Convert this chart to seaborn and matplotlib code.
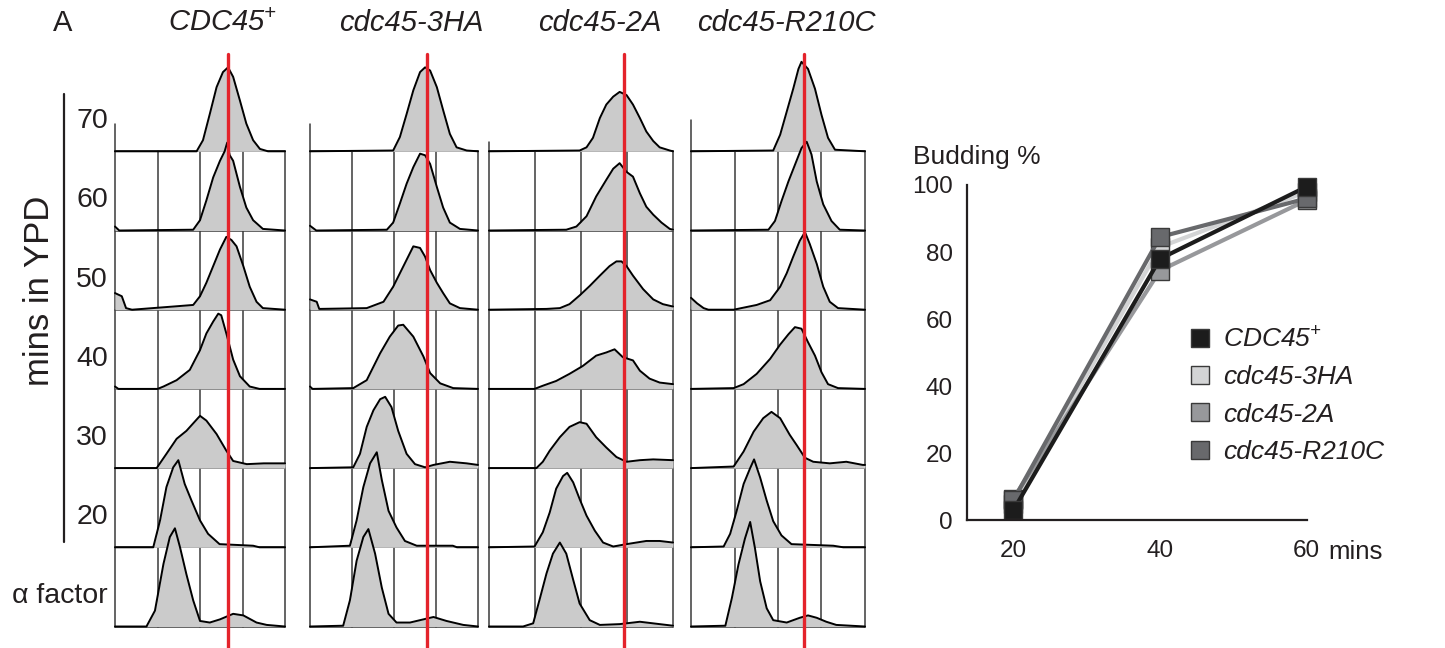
import pandas as pd
import seaborn as sns
import matplotlib.pyplot as plt
from matplotlib.lines import Line2D

# seaborn style first, fonts after (set_style resets font.family)
sns.set_style('white')
plt.rcParams['font.family'] = ['Liberation Sans', 'DejaVu Sans']
plt.rcParams['mathtext.fontset'] = 'custom'
# only the strain names use mathtext, so keep everything in it italic
plt.rcParams['mathtext.rm'] = 'Liberation Sans:italic'
plt.rcParams['mathtext.it'] = 'Liberation Sans:italic'
plt.rcParams['text.color'] = '#231f20'
plt.rcParams['xtick.labelcolor'] = '#231f20'
plt.rcParams['ytick.labelcolor'] = '#231f20'

W, H = 1445, 648

# ---- FACS panel data ----
strain_titles = [r'$CDC45^{+}$', 'cdc45-3HA', 'cdc45-2A', 'cdc45-R210C']
row_labels = ['\u03b1 factor', '20', '30', '40', '50', '60', '70']   # bottom -> top
red_x = [2.67, 2.78, 2.93, 2.60]          # 2C position in each column (box quarters)
top_spine = [0.35, 0.35, 0.12, 0.40]      # left tick above the 70 min row

# outline of each histogram: (x in box quarters 0-4, height in rows), rows bottom -> top
hist_cdc45 = [
    [(0, 0), (0.74, 0), (0.94, 0.2), (1.14, 0.79), (1.29, 1.13), (1.41, 1.24), (1.53, 1.0), (1.68, 0.66),
     (1.84, 0.33), (2.0, 0.07), (2.23, 0.05), (2.47, 0.09), (2.78, 0.16), (3.02, 0.14), (3.33, 0.05),
     (3.57, 0.02), (4, 0)],
    [(0, 0), (0.9, 0), (1.06, 0.34), (1.21, 0.76), (1.37, 1.01), (1.49, 1.1), (1.64, 0.8), (1.8, 0.59),
     (2.0, 0.34), (2.19, 0.17), (2.46, 0.04), (3.25, 0.02), (3.4, 0), (4, 0)],
    [(0, 0), (0.98, 0), (1.21, 0.18), (1.45, 0.37), (1.68, 0.47), (2.0, 0.66), (2.15, 0.6), (2.39, 0.43),
     (2.62, 0.22), (2.78, 0.09), (3.1, 0.05), (3.5, 0.06), (4, 0.06)],
    [(0, 0.03), (0.08, 0), (1.0, 0), (1.14, 0.03), (1.45, 0.11), (1.76, 0.24), (2.0, 0.49), (2.15, 0.7),
     (2.31, 0.85), (2.43, 0.95), (2.5, 0.93), (2.62, 0.7), (2.78, 0.37), (2.94, 0.16), (3.17, 0.03),
     (3.4, 0), (4, 0)],
    [(0, 0.21), (0.16, 0.17), (0.26, 0.02), (0.4, 0), (1.37, 0.04), (1.84, 0.06), (2.0, 0.17), (2.15, 0.34),
     (2.31, 0.55), (2.47, 0.76), (2.62, 0.92), (2.74, 0.88), (2.86, 0.8), (3.02, 0.55), (3.17, 0.29),
     (3.33, 0.1), (3.48, 0.02), (4, 0)],
    [(0, 0.05), (0.1, 0), (1.84, 0.01), (2.0, 0.13), (2.15, 0.38), (2.31, 0.67), (2.47, 0.88), (2.58, 1.0),
     (2.64, 1.11), (2.7, 0.95), (2.78, 0.88), (2.94, 0.55), (3.09, 0.29), (3.25, 0.13), (3.48, 0.02), (4, 0)],
    [(0, 0), (1.92, 0), (2.07, 0.14), (2.23, 0.47), (2.39, 0.81), (2.54, 1.0), (2.66, 1.06), (2.78, 0.94),
     (2.94, 0.64), (3.09, 0.35), (3.25, 0.14), (3.41, 0.03), (3.6, 0), (4, 0)],
]
hist_3ha = [
    [(0, 0), (0.79, 0.01), (0.95, 0.33), (1.11, 0.83), (1.27, 1.13), (1.39, 1.23), (1.55, 0.92), (1.71, 0.49),
     (1.87, 0.16), (2.06, 0.05), (2.38, 0.05), (2.7, 0.09), (2.94, 0.12), (3.25, 0.07), (3.65, 0.02), (4, 0)],
    [(0, 0), (0.95, 0.02), (1.11, 0.34), (1.27, 0.76), (1.43, 1.06), (1.59, 1.2), (1.71, 0.85), (1.87, 0.46),
     (2.06, 0.25), (2.26, 0.08), (2.54, 0.02), (2.94, 0.02), (3.4, 0.02), (3.5, 0), (4, 0)],
    [(0, 0), (1.03, 0.01), (1.19, 0.18), (1.35, 0.52), (1.51, 0.73), (1.67, 0.87), (1.79, 0.9), (1.94, 0.77),
     (2.1, 0.47), (2.3, 0.18), (2.5, 0.05), (2.74, 0.01), (2.94, 0.04), (3.33, 0.08), (3.73, 0.06), (4, 0.04)],
    [(0, 0.03), (0.06, 0), (1.03, 0.01), (1.35, 0.11), (1.67, 0.45), (1.9, 0.66), (2.1, 0.8), (2.22, 0.81),
     (2.46, 0.66), (2.7, 0.41), (2.86, 0.2), (3.1, 0.07), (3.41, 0.01), (4, 0)],
    [(0, 0.13), (0.16, 0.1), (0.22, 0.01), (1.35, 0.02), (1.75, 0.1), (1.98, 0.29), (2.14, 0.46), (2.3, 0.63),
     (2.46, 0.8), (2.62, 0.78), (2.74, 0.67), (2.86, 0.5), (3.02, 0.34), (3.17, 0.21), (3.33, 0.08),
     (3.57, 0.02), (4, 0)],
    [(0, 0.06), (0.15, 0), (1.83, 0.01), (1.98, 0.1), (2.14, 0.34), (2.3, 0.59), (2.46, 0.8), (2.62, 0.97),
     (2.74, 0.95), (2.86, 0.84), (3.02, 0.55), (3.17, 0.29), (3.33, 0.1), (3.57, 0.02), (4, 0)],
    [(0, 0), (1.98, 0.01), (2.14, 0.18), (2.3, 0.47), (2.46, 0.77), (2.62, 1.0), (2.74, 1.06), (2.86, 1.02),
     (3.02, 0.81), (3.17, 0.52), (3.33, 0.22), (3.49, 0.05), (3.73, 0.01), (4, 0)],
]
hist_2a = [
    [(0, 0), (0.74, 0), (0.96, 0.04), (1.1, 0.34), (1.25, 0.67), (1.39, 0.92), (1.54, 1.06), (1.68, 0.92),
     (1.83, 0.59), (1.97, 0.29), (2.19, 0.08), (2.41, 0.02), (2.84, 0.03), (3.28, 0.06), (3.71, 0.03), (4, 0.01)],
    [(0, 0), (0.99, 0.01), (1.17, 0.19), (1.32, 0.44), (1.46, 0.74), (1.61, 0.9), (1.7, 0.94), (1.83, 0.82),
     (1.97, 0.61), (2.12, 0.4), (2.3, 0.21), (2.48, 0.06), (2.7, 0.01), (2.99, 0.04), (3.42, 0.08),
     (3.71, 0.08), (4, 0.06)],
    [(0, 0), (1.03, 0), (1.17, 0.08), (1.32, 0.22), (1.54, 0.39), (1.75, 0.52), (1.97, 0.58), (2.12, 0.56),
     (2.33, 0.39), (2.55, 0.26), (2.77, 0.14), (2.99, 0.08), (3.28, 0.1), (3.57, 0.11), (4, 0.1)],
    [(0, 0), (0.99, 0), (1.17, 0.04), (1.46, 0.1), (1.75, 0.19), (2.04, 0.29), (2.33, 0.42), (2.55, 0.46),
     (2.73, 0.5), (2.91, 0.4), (3.13, 0.36), (3.28, 0.23), (3.49, 0.13), (3.71, 0.08), (4, 0.06)],
    [(0, 0), (1.25, 0.01), (1.54, 0.02), (1.75, 0.07), (1.97, 0.18), (2.19, 0.3), (2.41, 0.43), (2.62, 0.55),
     (2.77, 0.61), (2.88, 0.61), (2.99, 0.55), (3.13, 0.43), (3.35, 0.26), (3.57, 0.13), (3.78, 0.07), (4, 0.04)],
    [(0, 0), (1.68, 0.01), (1.9, 0.05), (2.12, 0.18), (2.33, 0.43), (2.55, 0.64), (2.7, 0.78), (2.84, 0.85),
     (2.99, 0.74), (3.13, 0.68), (3.28, 0.47), (3.42, 0.3), (3.57, 0.2), (3.75, 0.1), (3.93, 0.02), (4, 0.01)],
    [(0, 0), (1.97, 0.01), (2.12, 0.05), (2.26, 0.17), (2.41, 0.42), (2.55, 0.59), (2.7, 0.69), (2.84, 0.75),
     (2.99, 0.71), (3.13, 0.59), (3.28, 0.42), (3.42, 0.25), (3.57, 0.13), (3.71, 0.05), (3.93, 0.01), (4, 0)],
]
hist_r210c = [
    [(0, 0), (0.79, 0.01), (0.94, 0.36), (1.09, 0.78), (1.24, 1.11), (1.36, 1.32), (1.47, 0.99), (1.59, 0.57),
     (1.74, 0.23), (1.89, 0.08), (2.2, 0.05), (2.5, 0.11), (2.69, 0.14), (2.89, 0.11), (3.11, 0.06),
     (3.34, 0.02), (4, 0)],
    [(0, 0), (0.75, 0.01), (0.9, 0.17), (1.05, 0.46), (1.21, 0.8), (1.36, 1.0), (1.45, 1.11), (1.59, 0.88),
     (1.74, 0.59), (1.89, 0.33), (2.08, 0.15), (2.31, 0.04), (3.27, 0.02), (3.5, 0), (4, 0)],
    [(0, 0), (0.98, 0.02), (1.21, 0.21), (1.44, 0.46), (1.66, 0.63), (1.85, 0.71), (2.05, 0.63), (2.27, 0.42),
     (2.43, 0.29), (2.62, 0.13), (2.81, 0.08), (3.19, 0.06), (3.57, 0.08), (3.95, 0.04), (4, 0.04)],
    [(0, 0), (0.98, 0.01), (1.21, 0.06), (1.51, 0.19), (1.82, 0.38), (2.05, 0.56), (2.24, 0.69), (2.39, 0.78),
     (2.54, 0.76), (2.69, 0.59), (2.85, 0.42), (3.0, 0.21), (3.15, 0.06), (3.38, 0.01), (4, 0)],
    [(0, 0.15), (0.14, 0.08), (0.29, 0.02), (0.4, 0), (0.98, 0), (1.51, 0.06), (1.82, 0.12), (2.05, 0.29),
     (2.2, 0.46), (2.35, 0.67), (2.5, 0.87), (2.62, 0.98), (2.73, 0.83), (2.89, 0.58), (3.04, 0.29),
     (3.19, 0.1), (3.38, 0.02), (4, 0)],
    [(0, 0), (1.78, 0.01), (1.93, 0.12), (2.08, 0.37), (2.24, 0.62), (2.39, 0.83), (2.54, 1.04), (2.66, 1.12),
     (2.77, 0.96), (2.89, 0.62), (3.04, 0.33), (3.23, 0.12), (3.42, 0.01), (4, 0)],
    [(0, 0), (1.89, 0.01), (2.05, 0.21), (2.2, 0.5), (2.35, 0.79), (2.47, 1.04), (2.54, 1.13), (2.69, 1.04),
     (2.85, 0.79), (3.0, 0.46), (3.15, 0.17), (3.31, 0.02), (4, 0)],
]
all_hists = [hist_cdc45, hist_3ha, hist_2a, hist_r210c]

# ---- budding data ----
bud_time = [20, 40, 60]
bud_cdc45 = [3.0, 78.0, 99.5]
bud_3ha = [5.0, 81.5, 98.0]
bud_2a = [6.5, 74.5, 95.5]
bud_r210c = [6.0, 84.5, 96.0]
legend_names = [r'$CDC45^{+}$', 'cdc45-3HA', 'cdc45-2A', 'cdc45-R210C']
legend_colors = ['#1c1c1c', '#d3d4d5', '#97989b', '#68696c']


def fx(x):
    return x / W


def fy(y):
    return 1 - y / H


fig = plt.figure(figsize=(W / 100, H / 100), dpi=100)

# pixel layout of the histogram columns
col_px = [(115, 285), (310, 478), (489, 673), (691, 865)]
row_h = 79.2
base_px = 626.5
top_px = base_px - 7 * row_h

frame_c = '#3a3a3a'
for i, (x0, x1) in enumerate(col_px):
    ax = fig.add_axes([fx(x0), fy(base_px), (x1 - x0) / W, (base_px - top_px) / H])
    ax.set_xlim(0, 4)
    ax.set_ylim(0, 7)
    ax.axis('off')
    # boxes
    for r in range(7):
        ax.plot([0, 4], [r, r], color=frame_c, lw=1.1, zorder=1, clip_on=False)
    for q in range(5):
        ax.plot([q, q], [0, 6], color=frame_c, lw=1.1, zorder=1, clip_on=False)
    ax.plot([0, 0], [6, 6 + top_spine[i]], color=frame_c, lw=1.1, zorder=1, clip_on=False)
    # histograms, top row first so lower rows overlap
    for r in range(6, -1, -1):
        xs = [p[0] for p in all_hists[i][r]]
        hs = [r + p[1] for p in all_hists[i][r]]
        ax.fill_between(xs, r, hs, color='#cbcbcb', lw=0, zorder=3, clip_on=False)
        ax.plot(xs, hs, color='black', lw=1.4, zorder=3, clip_on=False)
    ax.plot([red_x[i], red_x[i]], [-0.28, 7.23], color='#e4232b', lw=2.4, zorder=10, clip_on=False)

# column titles and row labels
title_x = [222, 411, 600, 786]
for t, x in zip(strain_titles, title_x):
    fig.text(fx(x), fy(23), t, ha='center', va='center', fontsize=21, style='italic')
fig.text(fx(63), fy(23), 'A', ha='center', va='center', fontsize=21)
for r, lab in enumerate(row_labels):
    fig.text(fx(108), fy(base_px - (r + 0.38) * row_h), lab, ha='right', va='center', fontsize=20.5)
fig.add_artist(Line2D([fx(64), fx(64)], [fy(94), fy(542)], color='#231f20', lw=1.6))
fig.text(fx(40), fy(291), 'mins in YPD', rotation=90, ha='center', va='center', fontsize=25)

# ---- budding line chart ----
df = pd.DataFrame({
    'time': bud_time * 4,
    'budding': bud_3ha + bud_2a + bud_r210c + bud_cdc45,
    'strain': ['3HA'] * 3 + ['2A'] * 3 + ['R210C'] * 3 + ['CDC45'] * 3,
})
pal = {'CDC45': legend_colors[0], '3HA': legend_colors[1], '2A': legend_colors[2], 'R210C': legend_colors[3]}

x_left = 20 - (1013.3 - 967) / 7.335
bx = fig.add_axes([fx(967), fy(520.4), (1306.7 - 967) / W, (520.4 - 185) / H])
sns.lineplot(data=df, x='time', y='budding', hue='strain', hue_order=['3HA', '2A', 'R210C', 'CDC45'],
             palette=pal, marker='s', markersize=13, markeredgecolor='#3a3a3a', markeredgewidth=1,
             linewidth=3, legend=False, clip_on=False, ax=bx)
bx.set_xlim(x_left, 60)
bx.set_ylim(0, 100)
sns.despine(ax=bx)
for s in ['left', 'bottom']:
    bx.spines[s].set_linewidth(1.6)
    bx.spines[s].set_color('#231f20')
bx.set_xticks(bud_time)
bx.set_yticks([0, 20, 40, 60, 80, 100])
bx.tick_params(axis='y', direction='in', length=8.5, width=1.2, pad=10, labelsize=17.5, color='#231f20')
bx.tick_params(axis='x', direction='out', length=9, width=1.2, pad=5, labelsize=17.5, color='#231f20')
bx.set_xlabel('')
bx.set_ylabel('')
fig.text(fx(1328), fy(552), 'mins', ha='left', va='center', fontsize=18.5)
fig.text(fx(913), fy(157), 'Budding %', ha='left', va='center', fontsize=19)

handles = [Line2D([], [], marker='s', linestyle='none', markersize=13, markerfacecolor=c,
                  markeredgecolor='#3a3a3a', markeredgewidth=1) for c in legend_colors]
bx.legend(handles, legend_names, loc='upper left', bbox_to_anchor=(fx(1187), fy(327)),
          bbox_transform=fig.transFigure, frameon=False, prop={'style': 'italic', 'size': 19},
          handlelength=1.0, handletextpad=0.38, labelspacing=0.5, borderpad=0, borderaxespad=0)

fig.savefig('out.png', dpi=100)
